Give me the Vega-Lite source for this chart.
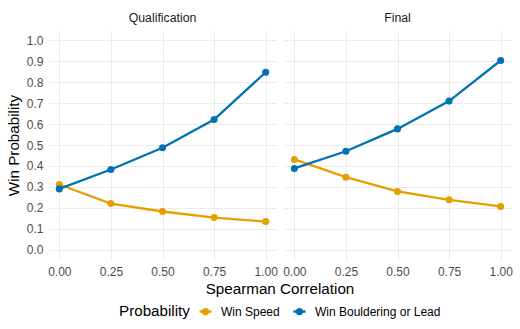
{
  "$schema": "https://vega.github.io/schema/vega-lite/v6.json",
  "background": "white",
  "padding": {"left": 6, "top": 11, "right": 4, "bottom": 2},
  "data": {"values": [
    {"stage": "Qualification", "rho": 0.0, "prob": 0.311, "series": "Win Speed"},
    {"stage": "Qualification", "rho": 0.25, "prob": 0.220, "series": "Win Speed"},
    {"stage": "Qualification", "rho": 0.5, "prob": 0.182, "series": "Win Speed"},
    {"stage": "Qualification", "rho": 0.75, "prob": 0.153, "series": "Win Speed"},
    {"stage": "Qualification", "rho": 1.0, "prob": 0.134, "series": "Win Speed"},
    {"stage": "Qualification", "rho": 0.0, "prob": 0.290, "series": "Win Bouldering or Lead"},
    {"stage": "Qualification", "rho": 0.25, "prob": 0.383, "series": "Win Bouldering or Lead"},
    {"stage": "Qualification", "rho": 0.5, "prob": 0.487, "series": "Win Bouldering or Lead"},
    {"stage": "Qualification", "rho": 0.75, "prob": 0.622, "series": "Win Bouldering or Lead"},
    {"stage": "Qualification", "rho": 1.0, "prob": 0.848, "series": "Win Bouldering or Lead"},
    {"stage": "Final", "rho": 0.0, "prob": 0.431, "series": "Win Speed"},
    {"stage": "Final", "rho": 0.25, "prob": 0.346, "series": "Win Speed"},
    {"stage": "Final", "rho": 0.5, "prob": 0.278, "series": "Win Speed"},
    {"stage": "Final", "rho": 0.75, "prob": 0.238, "series": "Win Speed"},
    {"stage": "Final", "rho": 1.0, "prob": 0.206, "series": "Win Speed"},
    {"stage": "Final", "rho": 0.0, "prob": 0.388, "series": "Win Bouldering or Lead"},
    {"stage": "Final", "rho": 0.25, "prob": 0.470, "series": "Win Bouldering or Lead"},
    {"stage": "Final", "rho": 0.5, "prob": 0.577, "series": "Win Bouldering or Lead"},
    {"stage": "Final", "rho": 0.75, "prob": 0.710, "series": "Win Bouldering or Lead"},
    {"stage": "Final", "rho": 1.0, "prob": 0.904, "series": "Win Bouldering or Lead"}
  ]},
  "facet": {
    "column": {
      "field": "stage",
      "type": "nominal",
      "sort": ["Qualification", "Final"],
      "title": "Spearman Correlation",
      "header": {
        "titleOrient": "bottom",
        "labelOrient": "top",
        "labelFontSize": 12.3,
        "labelColor": "#1a1a1a",
        "labelFont": "Liberation Sans",
        "labelPadding": 6,
        "titleFontSize": 15.2,
        "titleFont": "Liberation Sans",
        "titleFontWeight": "normal",
        "titleColor": "#000000",
        "titlePadding": -5
      }
    }
  },
  "spacing": 8,
  "spec": {
    "width": 227,
    "height": 230,
    "encoding": {
      "x": {
        "field": "rho", "type": "quantitative",
        "scale": {"domain": [-0.05, 1.05], "nice": false, "zero": false},
        "axis": {"values": [0, 0.25, 0.5, 0.75, 1], "format": ".2f", "title": null}
      },
      "y": {
        "field": "prob", "type": "quantitative",
        "scale": {"domain": [-0.05, 1.05], "nice": false, "zero": false},
        "axis": {"values": [0, 0.1, 0.2, 0.3, 0.4, 0.5, 0.6, 0.7, 0.8, 0.9, 1.0], "format": ".1f", "title": "Win Probability"}
      },
      "color": {
        "field": "series", "type": "nominal",
        "sort": ["Win Speed", "Win Bouldering or Lead"],
        "scale": {"domain": ["Win Speed", "Win Bouldering or Lead"], "range": ["#E69F00", "#0072B2"]},
        "legend": {"title": "Probability", "orient": "none", "legendX": 70, "legendY": 274}
      }
    },
    "layer": [
      {"mark": {"type": "line", "strokeWidth": 2.3}},
      {"mark": {"type": "circle", "size": 50, "opacity": 1}}
    ]
  },
  "config": {
    "font": "Liberation Sans",
    "view": {"stroke": null},
    "axis": {
      "grid": true,
      "gridColor": "#ebebeb",
      "gridWidth": 1,
      "domain": false,
      "ticks": false,
      "labelColor": "#4d4d4d",
      "labelFontSize": 12,
      "labelPadding": 6,
      "titleFontSize": 15.2,
      "titleFontWeight": "normal",
      "titleColor": "#000000",
      "titlePadding": 5
    },
    "legend": {
      "direction": "horizontal",
      "titleOrient": "left",
      "titleFontSize": 15.2,
      "titleFontWeight": "normal",
      "titleColor": "#000000",
      "titlePadding": 8,
      "labelFontSize": 12,
      "labelColor": "#000000",
      "labelOffset": 8,
      "symbolType": "M-1,0L1,0M-0.4,0A0.4,0.4 0 1,1 0.4,0A0.4,0.4 0 1,1 -0.4,0Z",
      "symbolStrokeWidth": 2.5,
      "symbolSize": 144,
      "columnPadding": 8
    }
  }
}
